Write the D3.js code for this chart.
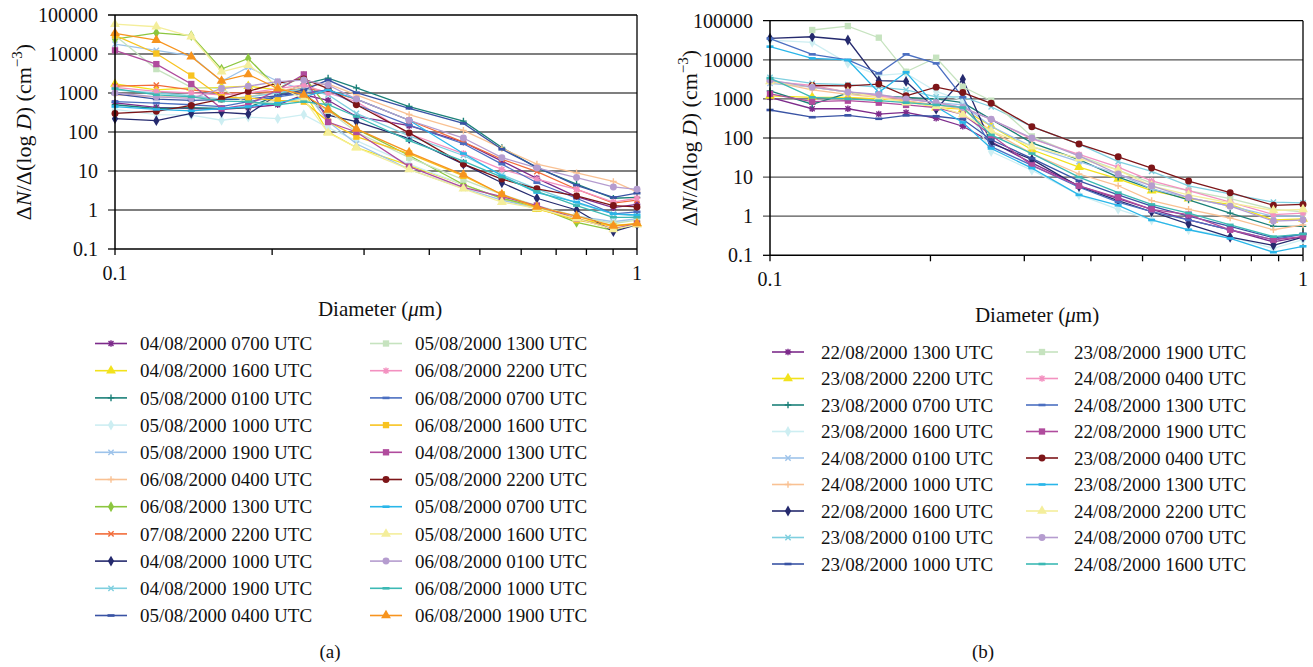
<!DOCTYPE html>
<html><head><meta charset="utf-8">
<script src="https://cdn.jsdelivr.net/npm/d3@7"></script>
<style>body{margin:0;background:#fff;}</style>
</head><body><svg id="c" width="1313" height="667"></svg>
<script>
// ---------- DATA ----------
const yTickValues = [0.1, 1, 10, 100, 1000, 10000, 100000];
const yTickLabels = ["0.1", "1", "10", "100", "1000", "10000", "100000"];
const xTickValues = [0.1, 0.2, 0.3, 0.4, 0.5, 0.6, 0.7, 0.8, 0.9, 1.0];
const xTickLabels = ["0.1", "", "", "", "", "", "", "", "", "1"];

const diamA = [0.1, 0.12, 0.14, 0.16, 0.18, 0.205, 0.23, 0.256, 0.29, 0.366, 0.465, 0.551, 0.643, 0.766, 0.901, 1.0];
const namesA = [
  "04/08/2000 0700 UTC","04/08/2000 1600 UTC","05/08/2000 0100 UTC","05/08/2000 1000 UTC",
  "05/08/2000 1900 UTC","06/08/2000 0400 UTC","06/08/2000 1300 UTC","07/08/2000 2200 UTC",
  "04/08/2000 1000 UTC","04/08/2000 1900 UTC","05/08/2000 0400 UTC",
  "05/08/2000 1300 UTC","06/08/2000 2200 UTC","06/08/2000 0700 UTC","06/08/2000 1600 UTC",
  "04/08/2000 1300 UTC","05/08/2000 2200 UTC","05/08/2000 0700 UTC","05/08/2000 1600 UTC",
  "06/08/2000 0100 UTC","06/08/2000 1000 UTC","06/08/2000 1900 UTC"];
const valuesA = [
  [560, 430, 400, 380, 420, 500, 900, 650, 250, 145, 55, 18, 6.5, 2.2, 1.15, 1.4],
  [1700, 1200, 1350, 1400, 1500, 1200, 1100, 100, 40, 14, 4.5, 2.0, 1.05, 0.6, 0.4, 0.45],
  [500, 400, 420, 400, 420, 900, 1700, 2400, 1350, 450, 190, 40, 12, 4.6, 2.0, 2.1],
  [380, 280, 270, 200, 240, 220, 280, 130, 60, 15, 4.5, 2.0, 1.2, 0.7, 0.45, 0.6],
  [18000, 12400, 8900, 2000, 4600, 2000, 1200, 185, 50, 11, 3.6, 1.8, 1.1, 0.7, 0.5, 0.6],
  [900, 800, 800, 700, 800, 1100, 1500, 1700, 900, 280, 110, 38, 15, 9, 5.4, 2.9],
  [24000, 35000, 29500, 4100, 7700, 1300, 2700, 400, 120, 25, 4.5, 2.0, 1.2, 0.48, 0.3, 0.44],
  [1500, 1600, 1200, 1000, 1000, 1100, 1300, 1100, 700, 200, 55, 20, 9.6, 3.4, 1.5, 1.8],
  [220, 195, 300, 320, 290, 900, 1000, 270, 185, 68, 15, 5, 2, 1.0, 0.28, 0.42],
  [1200, 1000, 850, 700, 800, 1000, 1300, 900, 300, 80, 25, 8, 3.5, 1.5, 0.8, 0.7],
  [950, 700, 650, 680, 700, 850, 1200, 2150, 1020, 405, 166, 36, 12.6, 4.3, 2.1, 2.7],
  [30000, 4100, 1400, 1300, 530, 600, 700, 350, 100, 22, 6, 2.5, 1.3, 0.7, 0.45, 0.55],
  [1400, 1100, 1000, 900, 1000, 1300, 1600, 1000, 600, 90, 28, 11, 6.2, 3.4, 1.6, 2.0],
  [600, 550, 500, 450, 600, 800, 1000, 1200, 500, 150, 50, 15, 5, 2.0, 0.8, 0.9],
  [30000, 10300, 2800, 780, 740, 650, 600, 185, 76, 28, 7.5, 2.5, 1.1, 0.55, 0.38, 0.44],
  [12400, 5500, 1700, 400, 500, 1200, 3000, 180, 100, 13, 3.8, 2.2, 1.3, 0.6, 0.33, 0.45],
  [300, 340, 480, 700, 1100, 1800, 2300, 1300, 500, 95, 15, 6.2, 3.5, 2.3, 1.3, 1.2],
  [450, 380, 350, 400, 450, 550, 800, 1200, 700, 200, 28, 7.5, 2.8, 1.6, 0.8, 0.75],
  [58000, 50000, 28000, 3500, 5200, 1500, 700, 95, 40, 11, 3.5, 1.6, 1.1, 0.6, 0.32, 0.42],
  [1000, 800, 730, 1300, 1500, 1950, 2150, 1600, 700, 200, 70, 22, 12, 6.8, 3.9, 3.4],
  [1300, 900, 800, 620, 600, 500, 600, 500, 250, 60, 18, 7, 3, 1.3, 0.65, 0.65],
  [34000, 22800, 8500, 2050, 3000, 1300, 900, 370, 120, 30, 8, 2.5, 1.2, 0.7, 0.39, 0.45]];
const colorsA = ["#7D2B8B","#F2E21C","#1B8079","#CDEEF2","#9DC3EA","#F9C193","#8CC63F","#F26C3A",
  "#252A6E","#7FCFDF","#3953A4","#C6E3BF","#F391C0","#4B6FC1","#F8C320","#B04B9D","#7D1518",
  "#29B6E9","#F4EE9B","#B59CCF","#3CB9B4","#F7941E"];
const markersA = ["asterisk","triangle","plus","diamond","x","plus","diamond","x","diamond","x","dash",
  "square","asterisk","dash","square","square","circle","dash","triangle","circle","dash","triangle"];

const diamB = [0.1, 0.12, 0.14, 0.16, 0.18, 0.205, 0.23, 0.26, 0.31, 0.38, 0.45, 0.52, 0.61, 0.73, 0.88, 1.0];
const namesB = [
  "22/08/2000 1300 UTC","23/08/2000 2200 UTC","23/08/2000 0700 UTC","23/08/2000 1600 UTC",
  "24/08/2000 0100 UTC","24/08/2000 1000 UTC","22/08/2000 1600 UTC","23/08/2000 0100 UTC",
  "23/08/2000 1000 UTC",
  "23/08/2000 1900 UTC","24/08/2000 0400 UTC","24/08/2000 1300 UTC","22/08/2000 1900 UTC",
  "23/08/2000 0400 UTC","23/08/2000 1300 UTC","24/08/2000 2200 UTC","24/08/2000 0700 UTC",
  "24/08/2000 1600 UTC"];
const valuesB = [
  [1100, 560, 560, 410, 450, 320, 200, 80, 23, 6, 2.8, 1.5, 0.8, 0.45, 0.22, 0.3],
  [1200, 1100, 1100, 1000, 900, 600, 550, 200, 50, 18, 9, 4.5, 2.8, 2.0, 0.8, 0.85],
  [1600, 730, 1400, 1200, 1100, 1000, 800, 300, 75, 28, 10, 5, 2.6, 1.2, 0.55, 0.55],
  [32000, 28000, 8100, 4000, 4500, 1550, 900, 45, 15, 3.5, 1.5, 0.8, 0.45, 0.3, 0.15, 0.25],
  [2500, 2000, 1500, 1200, 1000, 800, 700, 200, 60, 25, 12, 5, 3, 1.8, 1.0, 1.0],
  [2800, 1700, 1300, 1100, 900, 700, 550, 150, 40, 12, 6, 2.5, 1.5, 0.9, 0.45, 0.6],
  [35500, 38900, 32100, 2920, 2800, 540, 3180, 73, 28.5, 5.7, 2.5, 1.3, 0.63, 0.29, 0.18, 0.29],
  [3550, 2500, 2300, 2000, 1700, 1130, 1130, 630, 195, 70, 25, 14, 6, 3.7, 2.3, 2.2],
  [520, 340, 380, 310, 380, 360, 300, 90, 30, 8, 3.5, 1.8, 1.0, 0.55, 0.28, 0.35],
  [null, 57800, 73000, 36800, 4950, 11300, 2050, 900, 110, 35, 15, 7, 4.5, 2.8, 1.5, 1.3],
  [2800, 2200, 1500, 1200, 1000, 800, 600, 300, 95, 38, 18, 8, 4.5, 2.3, 1.1, 1.2],
  [35000, 13800, 9900, 4500, 13800, 8100, 1100, 60, 20, 5.5, 2.3, 1.3, 0.8, 0.45, 0.25, 0.35],
  [1350, 850, 900, 800, 700, 600, 400, 120, 20, 6, 3, 1.5, 1.1, 0.45, 0.25, 0.3],
  [null, 2200, 2150, 2400, 1200, 2000, 1450, 770, 195, 70, 33, 17, 7.9, 4.0, 1.9, 2.0],
  [21700, 10900, 9900, 1470, 4800, 630, 250, 54, 17, 3.5, 1.9, 0.8, 0.45, 0.27, 0.12, 0.17],
  [2800, 2000, 1500, 1100, 800, 650, 400, 150, 60, 30, 15, 6, 3.5, 2.2, 1.4, 1.5],
  [3000, 2000, 1500, 1300, 1000, 800, 600, 300, 100, 35, 12, 6, 3, 1.8, 0.75, 0.8],
  [3400, 1100, 1000, 900, 800, 700, 600, 120, 40, 10, 4, 2, 1.2, 0.6, 0.3, 0.35]];
const colorsB = ["#7D2B8B","#F2E21C","#1B8079","#CDEEF2","#9DC3EA","#F9C193","#252A6E","#7FCFDF","#3953A4",
  "#C6E3BF","#F391C0","#4B6FC1","#B04B9D","#7D1518","#29B6E9","#F4EE9B","#B59CCF","#3CB9B4"];
const markersB = ["asterisk","triangle","plus","diamond","x","plus","diamond","x","dash",
  "square","asterisk","dash","square","circle","dash","triangle","circle","dash"];

// ---------- DRAW ----------
const FONT = "Liberation Serif";
const svg = d3.select("#c");

function markerPath(type) {
  const s = 3.3;
  switch (type) {
    case "asterisk": return `M${-s},0H${s}M0,${-s}V${s}M${-s*0.75},${-s*0.75}L${s*0.75},${s*0.75}M${-s*0.75},${s*0.75}L${s*0.75},${-s*0.75}`;
    case "plus": return `M${-s},0H${s}M0,${-s}V${s}`;
    case "x": return `M${-s*0.8},${-s*0.8}L${s*0.8},${s*0.8}M${-s*0.8},${s*0.8}L${s*0.8},${-s*0.8}`;
    case "triangle": return d3.symbol(d3.symbolTriangle, 42)();
    case "diamond": return d3.symbol(d3.symbolDiamond, 34)();
    case "square": return d3.symbol(d3.symbolSquare, 40)();
    case "circle": return d3.symbol(d3.symbolCircle, 38)();
    case "dash": return "M-3.5,-1.3H3.5V1.3H-3.5Z";
  }
}
const strokeMarkers = new Set(["asterisk","plus","x"]);

function drawMarker(g, type, color, x, y) {
  const p = g.append("path").attr("d", markerPath(type)).attr("transform", `translate(${x},${y})`);
  if (strokeMarkers.has(type)) p.attr("fill", "none").attr("stroke", color).attr("stroke-width", 1.4);
  else p.attr("fill", color).attr("stroke", "none");
}

function txt(g) { return g.append("text").attr("font-family", FONT).attr("fill", "#111"); }

function panel(cfg) {
  const x = d3.scaleLog().domain([0.1, 1]).range([cfg.x0, cfg.x1]);
  const y = d3.scaleLog().domain([0.1, 100000]).range([cfg.y1, cfg.y0]);
  const g = svg.append("g");

  g.selectAll("line.grid").data(yTickValues.filter(v => v > 0.1)).enter().append("line")
    .attr("x1", cfg.x0 - 7).attr("x2", cfg.x1).attr("y1", d => y(d)).attr("y2", d => y(d))
    .attr("stroke", d => d === 100000 ? "#000" : "#555").attr("stroke-width", 1.3);
  g.append("line").attr("x1", cfg.x0 - 7).attr("x2", cfg.x0).attr("y1", y(0.1)).attr("y2", y(0.1)).attr("stroke", "#000").attr("stroke-width", 1.3);
  g.append("line").attr("x1", cfg.x1).attr("x2", cfg.x1).attr("y1", cfg.y0).attr("y2", cfg.y1).attr("stroke", "#000").attr("stroke-width", 1.3);

  yTickValues.forEach((v, i) => {
    txt(g).attr("x", cfg.x0 - 17).attr("y", y(v)).attr("dy", "0.35em")
      .attr("text-anchor", "end").attr("font-size", 20).text(yTickLabels[i]);
  });

  const line = d3.line().defined(d => d[1] != null).x(d => x(d[0])).y(d => y(d[1]));
  cfg.values.forEach((vals, i) => {
    const pts = cfg.diam.map((dd, j) => [dd, vals[j]]);
    g.append("path").datum(pts).attr("d", line).attr("fill", "none")
      .attr("stroke", cfg.colors[i]).attr("stroke-width", 1.3);
    pts.filter(p => p[1] != null).forEach(p => drawMarker(g, cfg.markers[i], cfg.colors[i], x(p[0]), y(p[1])));
  });

  g.append("line").attr("x1", cfg.x0).attr("x2", cfg.x0).attr("y1", cfg.y0).attr("y2", cfg.y1).attr("stroke", "#000").attr("stroke-width", 1.5);
  g.append("line").attr("x1", cfg.x0).attr("x2", cfg.x1).attr("y1", cfg.y1).attr("y2", cfg.y1).attr("stroke", "#000").attr("stroke-width", 1.5);
  g.selectAll("line.xt").data(xTickValues).enter().append("line")
    .attr("x1", d => x(d)).attr("x2", d => x(d)).attr("y1", cfg.y1).attr("y2", cfg.y1 + 6)
    .attr("stroke", "#000").attr("stroke-width", 1.3);
  xTickValues.forEach((v, i) => {
    if (xTickLabels[i]) txt(g).attr("x", x(v)).attr("y", cfg.y1 + 31).attr("text-anchor", "middle").attr("font-size", 20).text(xTickLabels[i]);
  });

  const xt = txt(g).attr("x", cfg.xTitleX).attr("y", cfg.xTitleY).attr("text-anchor", "middle").attr("font-size", 21);
  xt.append("tspan").text("Diameter (");
  xt.append("tspan").attr("font-style", "italic").text("μ");
  xt.append("tspan").text("m)");

  const yt = txt(g).attr("transform", `translate(${cfg.yTitleX},${(cfg.y0 + cfg.y1) / 2}) rotate(-90)`)
    .attr("text-anchor", "middle").attr("font-size", 22);
  yt.append("tspan").text("Δ");
  yt.append("tspan").attr("font-style", "italic").text("N");
  yt.append("tspan").text("/Δ(log ");
  yt.append("tspan").attr("font-style", "italic").text("D");
  yt.append("tspan").text(") (cm");
  yt.append("tspan").attr("dy", -9).attr("font-size", 15).text("−3");
  yt.append("tspan").attr("dy", 9).text(")");

  const half = Math.ceil(cfg.names.length / 2);
  cfg.names.forEach((nm, i) => {
    const col = i < half ? 0 : 1;
    const row = col === 0 ? i : i - half;
    const lx = cfg.legX[col];
    const ly = cfg.legY0 + row * cfg.legDy;
    g.append("line").attr("x1", lx).attr("x2", lx + 32).attr("y1", ly).attr("y2", ly)
      .attr("stroke", cfg.colors[i]).attr("stroke-width", 1.6);
    drawMarker(g, cfg.markers[i], cfg.colors[i], lx + 16, ly);
    txt(g).attr("x", cfg.legTextX[col]).attr("y", ly).attr("dy", "0.35em")
      .attr("font-size", 19).text(nm);
  });

  txt(svg).attr("x", cfg.capX).attr("y", 658).attr("text-anchor", "middle").attr("font-size", 19).text(cfg.cap);
}

panel({x0: 115, x1: 637, y0: 15, y1: 249, diam: diamA, values: valuesA, colors: colorsA, markers: markersA, names: namesA,
  xTitleX: 380, xTitleY: 316, yTitleX: 31, legX: [95, 370], legTextX: [140, 415], legY0: 343.5, legDy: 27.2, capX: 330, cap: "(a)"});
panel({x0: 770, x1: 1303, y0: 20.7, y1: 255.3, diam: diamB, values: valuesB, colors: colorsB, markers: markersB, names: namesB,
  xTitleX: 1037, xTitleY: 322, yTitleX: 697, legX: [772, 1026], legTextX: [821, 1074], legY0: 352, legDy: 26.5, capX: 983, cap: "(b)"});
</script></body></html>
